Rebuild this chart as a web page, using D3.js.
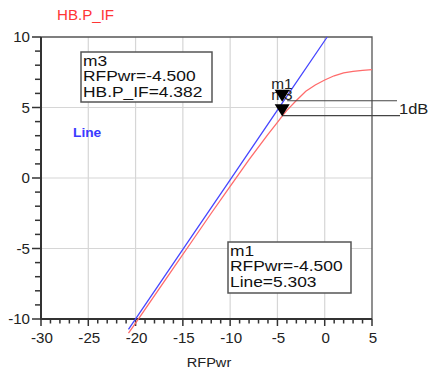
<!DOCTYPE html>
<html><head><meta charset="utf-8">
<script src="https://cdn.jsdelivr.net/npm/d3@7"></script>
<style>
html,body{margin:0;padding:0;background:#fff;}
svg{display:block;font-family:"Liberation Sans",Arial,sans-serif;}
</style></head>
<body>
<svg id="chart" width="430" height="374"></svg>
<script>
// ---- data ----
const xTicks = [-30, -25, -20, -15, -10, -5, 0, 5];
const yTicks = [-10, -5, 0, 5, 10];
const redX = [-20.75, -20, -18, -16, -14, -12, -10, -8, -6, -5, -4.5, -4, -3, -2, -1, 0, 1, 2, 3, 4, 5];
const redY = [-11.0, -10.3, -8.35, -6.4, -4.45, -2.5, -0.6, 1.3, 3.1, 3.95, 4.382, 4.8, 5.5, 6.15, 6.6, 6.95, 7.25, 7.45, 7.56, 7.63, 7.68];
const blueX = [-20.75, -15, -10, -4.5, 0.26];
const blueY = [-10.74, -5.06, -0.13, 5.303, 10];
const markerNames = ["m1", "m3"];
const markerX = [-4.5, -4.5];
const markerY = [5.303, 4.382];
const m3Lines = ["m3", "RFPwr=-4.500", "HB.P_IF=4.382"];
const m1Lines = ["m1", "RFPwr=-4.500", "Line=5.303"];

const svg = d3.select("#chart");
const x = d3.scaleLinear().domain([-30, 5]).range([41, 372]);
const y = d3.scaleLinear().domain([-10, 10]).range([319, 37]);

// grid
const grid = svg.append("g");
grid.selectAll(".vg").data(xTicks.slice(1, -1)).join("line")
  .attr("x1", d => x(d)).attr("x2", d => x(d)).attr("y1", y(10)).attr("y2", y(-10))
  .attr("stroke", "#d6d6d6").attr("stroke-width", 1.2);
grid.selectAll(".hg").data(yTicks.slice(1, -1)).join("line")
  .attr("x1", x(-30)).attr("x2", x(5)).attr("y1", d => y(d)).attr("y2", d => y(d))
  .attr("stroke", "#d6d6d6").attr("stroke-width", 1.2);

// border top/right
svg.append("path").attr("d", `M${x(-30)},${y(10)}H${x(5)}V${y(-10)}`)
  .attr("fill", "none").attr("stroke", "#555").attr("stroke-width", 1.3);

// axes
const yMinor = d3.range(-10, 10.01, 1);
const xMinor = d3.range(-30, 5.01, 1);
const axG = svg.append("g").attr("stroke", "#333");
axG.selectAll(".ymt").data(yMinor).join("line")
  .attr("x1", d => x(-30) - (d % 5 === 0 ? 9 : 6)).attr("x2", x(-30))
  .attr("y1", d => y(d)).attr("y2", d => y(d)).attr("stroke-width", 1.5);
axG.selectAll(".xmt").data(xMinor).join("line")
  .attr("y1", y(-10)).attr("y2", d => y(-10) + (d % 5 === 0 ? 7 : 4.5))
  .attr("x1", d => x(d)).attr("x2", d => x(d)).attr("stroke-width", 1.5);
svg.append("path").attr("d", `M${x(-30)},${y(10)}V${y(-10)}H${x(5)}`)
  .attr("fill", "none").attr("stroke", "#333").attr("stroke-width", 2);

// tick labels
svg.selectAll(".yl").data(yTicks).join("text")
  .attr("text-anchor", "end").attr("font-size", 14).attr("fill", "#222")
  .attr("transform", d => `translate(30,${y(d) + 5}) scale(1.08,1)`)
  .text(d => d);
svg.selectAll(".xl").data(xTicks).join("text")
  .attr("text-anchor", "middle").attr("font-size", 14).attr("fill", "#222")
  .attr("transform", d => `translate(${x(d) + 1},343) scale(1.08,1)`)
  .text(d => d);
svg.append("text").attr("text-anchor", "middle").attr("font-size", 13).attr("fill", "#222")
  .attr("transform", "translate(209,367) scale(1.12,1)").text("RFPwr");

// title / legend label
svg.append("text").attr("font-size", 14).attr("fill", "#ff3535")
  .attr("transform", "translate(57,20) scale(1.08,1)").text("HB.P_IF");
svg.append("text").attr("font-size", 12.5).attr("font-weight", "bold").attr("fill", "#3a3aff")
  .attr("transform", "translate(73,137) scale(1.1,1)").text("Line");

// curves
const line = d3.line().x(d => x(d[0])).y(d => y(d[1]));
svg.append("path").datum(redX.map((v, i) => [v, redY[i]])).attr("d", line)
  .attr("fill", "none").attr("stroke", "#ff6b6b").attr("stroke-width", 1.3);
svg.append("path").datum(blueX.map((v, i) => [v, blueY[i]])).attr("d", line)
  .attr("fill", "none").attr("stroke", "#4646ff").attr("stroke-width", 1.3);

// 1dB lines
const dbG = svg.append("g").attr("stroke", "#444").attr("stroke-width", 1.2);
dbG.append("line").attr("x1", x(markerX[0]) + 5).attr("x2", 397)
  .attr("y1", y(markerY[0]) - 2.5).attr("y2", y(markerY[0]) - 2.5);
dbG.append("line").attr("x1", x(markerX[1])).attr("x2", 400)
  .attr("y1", y(markerY[1]) - 0.5).attr("y2", y(markerY[1]) - 0.5);
svg.append("text").attr("font-size", 15).attr("fill", "#222")
  .attr("transform", "translate(399,114) scale(1.1,1)").text("1dB");

// marker labels then triangles
markerNames.forEach((n, i) => {
  svg.append("text").attr("font-size", 14).attr("fill", "#222")
    .attr("transform", `translate(${x(markerX[i]) - 11},${y(markerY[i]) - 14 + (i === 1 ? -2 : 0)}) scale(1.1,1)`)
    .text(n);
});
markerNames.forEach((n, i) => {
  const tx = x(markerX[i]), ty = y(markerY[i]) - (i === 0 ? 1.5 : 0);
  svg.append("path").attr("d", `M${tx - 7.5},${ty - 12}L${tx + 7.5},${ty - 12}L${tx},${ty}Z`)
    .attr("fill", "#000");
});

// marker boxes
function box(x0, y0, w, h, lines) {
  svg.append("rect").attr("x", x0).attr("y", y0).attr("width", w).attr("height", h)
    .attr("fill", "#fff").attr("stroke", "#555").attr("stroke-width", 1.5);
  lines.forEach((t, i) => {
    svg.append("text").attr("font-size", 14.5).attr("fill", "#111")
      .attr("transform", `translate(${x0 + 2},${y0 + 13.5 + i * 15.5}) scale(1.2,1)`)
      .text(t);
  });
}
box(81, 52, 131, 50, m3Lines);
box(228, 242, 123, 51, m1Lines);
</script>
</body></html>
